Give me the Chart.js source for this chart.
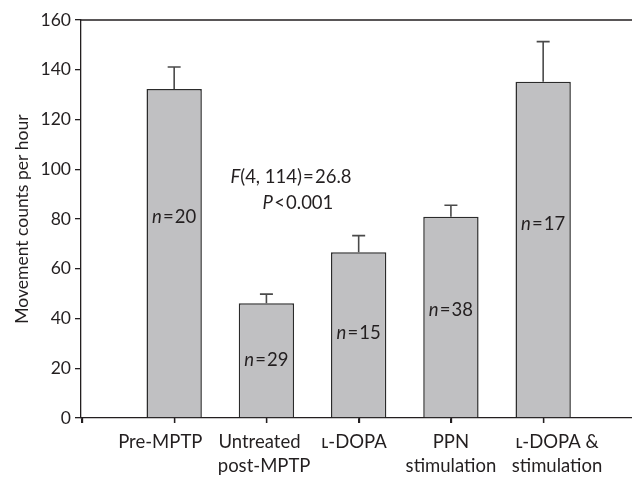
<!DOCTYPE html>
<html>
<head>
<meta charset="utf-8">
<script src="https://cdn.jsdelivr.net/npm/chart.js@4"></script>
<style>
  html, body { margin: 0; padding: 0; background: #fff; }
  #wrap { width: 632px; height: 479px; }
</style>
</head>
<body>
<div id="wrap"><canvas id="chart" width="632" height="479"></canvas></div>
<script>
// Movement counts per hour, by treatment group
// (em/en spaces nudge labels off-centre the way the original sets them)
const categories = [
  "Pre-MPTP\u2003\u2003",
  ["Untreated\u2003", "post-MPTP\u2005"],
  "\u029F-DOPA\u2002",
  ["PPN", "stimulation"],
  ["\u2003\u2002\u2005\u029F-DOPA &", "\u2003\u2003stimulation"],
]
const means = [132.3, 46.1, 66.6, 80.9, 135.2]
const errUp = [8.8, 3.7, 6.7, 4.6, 16.1]
const groupN = [20, 29, 15, 38, 17]
const yTicks = [0, 20, 40, 60, 80, 100, 120, 140, 160]

// where the n= labels and the stats text sit (data units)
const nLabelAt = [80.8, 23.3, 34.3, 43.4, 78]
const statLines = [
  [{ t: "F", i: true }, { t: "(4, 114)\u200A=\u200A26.8" }],
  [{ t: "P", i: true }, { t: "\u200A<\u200A0.001" }],
]
const statAt = { x: [2.266, 2.342], y: [97, 86.4] }

const FONT = "Lato, 'Open Sans', sans-serif"
const INK = "#231f20"

// groups sit at x = 1..5
const points = means.map((m, i) => ({ x: i + 1, y: m }))

function drawMixed(ctx, parts, cx, cy, size) {
  let w = 0
  parts.forEach((p) => {
    ctx.font = (p.i ? "italic " : "") + size + "px " + FONT
    p.w = ctx.measureText(p.t).width
    w += p.w
  })
  let x = cx - w / 2
  ctx.textAlign = "left"
  ctx.textBaseline = "middle"
  parts.forEach((p) => {
    ctx.font = (p.i ? "italic " : "") + size + "px " + FONT
    ctx.fillText(p.t, x, cy)
    x += p.w
  })
}

const extras = {
  id: "extras",
  afterDatasetsDraw(chart) {
    const ctx = chart.ctx
    const area = chart.chartArea
    const yScale = chart.scales.y
    const xScale = chart.scales.x
    const bars = chart.getDatasetMeta(0).data

    ctx.save()
    ctx.strokeStyle = INK
    ctx.lineWidth = 1.3
    ctx.beginPath()
    // top frame line
    ctx.moveTo(area.left, area.top)
    ctx.lineTo(chart.width, area.top)
    // x tick marks
    xScale.ticks.forEach((t) => {
      const px = Math.round(xScale.getPixelForValue(t.value)) + 0.5
      ctx.moveTo(px, area.bottom)
      ctx.lineTo(px, area.bottom + 5)
    })
    ctx.stroke()

    // error bars (upper only)
    ctx.strokeStyle = "#4a4a4a"
    ctx.lineWidth = 1.6
    means.forEach((m, i) => {
      const bar = bars[i]
      const y0 = yScale.getPixelForValue(m)
      const y1 = yScale.getPixelForValue(m + errUp[i])
      ctx.beginPath()
      ctx.moveTo(bar.x, y0)
      ctx.lineTo(bar.x, y1)
      ctx.moveTo(bar.x - 6.5, y1)
      ctx.lineTo(bar.x + 6.5, y1)
      ctx.stroke()
    })

    // n= labels inside bars
    ctx.fillStyle = INK
    groupN.forEach((n, i) => {
      const bar = bars[i]
      drawMixed(ctx, [{ t: "n", i: true }, { t: "\u200A=\u200A" + n }], bar.x, yScale.getPixelForValue(nLabelAt[i]), 18.5)
    })

    // ANOVA result
    statLines.forEach((line, k) => {
      drawMixed(ctx, line, xScale.getPixelForValue(statAt.x[k]), yScale.getPixelForValue(statAt.y[k]), 18.5)
    })
    ctx.restore()
  },
}

new Chart(document.getElementById("chart"), {
  type: "bar",
  data: {
    datasets: [
      {
        data: points,
        backgroundColor: "#c0c0c2",
        borderColor: "#2b2b2b",
        borderWidth: 1.5,
        borderSkipped: "bottom",
        barPercentage: 0.6,
        categoryPercentage: 1,
      },
    ],
  },
  options: {
    responsive: false,
    animation: false,
    devicePixelRatio: 1,
    layout: { padding: { top: 20, right: 0, bottom: 0, left: 0 } },
    plugins: { legend: { display: false }, tooltip: { enabled: false } },
    scales: {
      x: {
        type: "linear",
        min: -0.01,
        max: 5.963,
        offset: false,
        afterBuildTicks: (s) => { s.ticks = [0, 1, 2, 3, 4, 5].map((v) => ({ value: v })) },
        grid: { offset: false, drawOnChartArea: false, drawTicks: true, tickLength: 5, color: INK, lineWidth: 1.3 },
        border: { color: INK, width: 1.3 },
        ticks: {
          autoSkip: false,
          maxRotation: 0,
          padding: 7,
          color: INK,
          font: { family: FONT, size: 18.5, lineHeight: 1.3 },
          callback: (v) => categories[v - 1] || "",
        },
        afterFit: (s) => { s.height = 61; s.paddingRight = 0; s.paddingLeft = 0 },
      },
      y: {
        min: 0,
        max: 160,
        afterBuildTicks: (s) => { s.ticks = yTicks.map((v) => ({ value: v })) },
        grid: { drawOnChartArea: false, drawTicks: true, tickLength: 6, color: INK, lineWidth: 1.3 },
        border: { color: INK, width: 1.3 },
        ticks: {
          padding: 4,
          color: INK,
          font: { family: FONT, size: 17.5 },
        },
        title: {
          display: true,
          text: "Movement counts per hour",
          color: INK,
          padding: { top: 12, bottom: 0 },
          font: { family: FONT, size: 17.5 },
        },
        afterFit: (s) => { s.width = 81 },
      },
    },
  },
  plugins: [extras],
})
</script>
</body>
</html>
